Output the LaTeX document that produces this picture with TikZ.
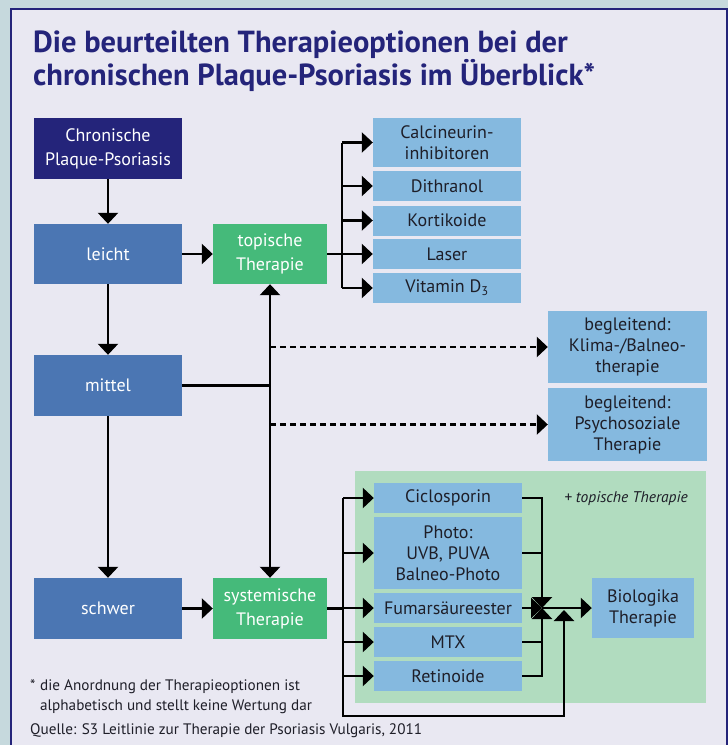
\documentclass[tikz,border=0pt]{standalone}
\usepackage{fontspec}
\setmainfont{PT Sans}
\usetikzlibrary{arrows.meta}
\definecolor{outerbg}{HTML}{C6D9DD}
\definecolor{innerbg}{HTML}{E9E8F2}
\definecolor{navy}{HTML}{24247A}
\definecolor{midblue}{HTML}{4B76B3}
\definecolor{tgreen}{HTML}{45BA7A}
\definecolor{lblue}{HTML}{85B9DF}
\definecolor{lgreen}{HTML}{B1DCBF}
\definecolor{darktext}{HTML}{1E1E28}
\begin{document}
\begin{tikzpicture}[x=1pt,y=-1pt,
  basebox/.style={inner sep=0pt, align=center},
  dbox/.style={basebox, fill=navy, text=white, font=\fontsize{18}{24}\selectfont},
  mbox/.style={basebox, fill=midblue, text=white, font=\fontsize{18}{24}\selectfont},
  gbox/.style={basebox, fill=tgreen, text=white, font=\fontsize{18}{24}\selectfont},
  lbox/.style={basebox, fill=lblue, text=darktext, font=\fontsize{18}{21}\selectfont},
  conn/.style={line width=2.4pt, draw=black},
  arr/.style={conn, -{Triangle[length=11pt,width=20pt]}},
  dblarr/.style={conn, {Triangle[length=11pt,width=20pt]}-{Triangle[length=11pt,width=20pt]}},
  dasharr/.style={arr, dash pattern=on 6pt off 4pt},
  titletext/.style={anchor=base west, inner sep=0pt, text=navy, font=\bfseries\fontsize{30.5}{36}\selectfont},
  notetext/.style={anchor=base west, inner sep=0pt, text=darktext, font=\fontsize{15.2}{18}\selectfont}
]
\useasboundingbox (0,0) rectangle (728,745);
\clip (0,0) rectangle (728,745);
\fill[outerbg] (0,0) rectangle (728,745);
\filldraw[fill=innerbg, draw=navy, line width=2.5pt] (11,9) rectangle (727,790);
\fill[lgreen] (355,471) rectangle (706,703);

% title
\node[titletext] (t1) at (33,52) {Die beurteilten Therapieoptionen bei der};
\node[titletext] (t2) at (33,85) {chronischen Plaque-Psoriasis im Überblick*};

% left column
\node[dbox, minimum width=148pt, minimum height=61pt] (chron) at (108,148.5) {Chronische\\Plaque-Psoriasis};
\node[mbox, minimum width=148pt, minimum height=60pt] (leicht) at (108,254) {leicht};
\node[mbox, minimum width=148pt, minimum height=61pt] (mittel) at (108,385.5) {mittel};
\node[mbox, minimum width=148pt, minimum height=61pt] (schwer) at (108,608.5) {schwer};

% therapy boxes
\node[gbox, minimum width=114pt, minimum height=60pt] (topisch) at (270,254) {topische\\Therapie};
\node[gbox, minimum width=114pt, minimum height=61pt] (system) at (270,608.5) {systemische\\Therapie};

% topical list
\node[lbox, minimum width=148pt, minimum height=49pt] (calc) at (447,142.5) {Calcineurin-\\inhibitoren};
\node[lbox, minimum width=148pt, minimum height=30pt] (dith) at (447,186) {Dithranol};
\node[lbox, minimum width=148pt, minimum height=30pt] (kort) at (447,220.5) {Kortikoide};
\node[lbox, minimum width=148pt, minimum height=30pt] (laser) at (447,254) {Laser};
\node[lbox, minimum width=148pt, minimum height=30pt] (vitd) at (447,288) {Vitamin D\textsubscript{3}};

% accompanying
\node[lbox, minimum width=159pt, minimum height=72pt] (beg1) at (627.5,347) {begleitend:\\Klima-/Balneo-\\therapie};
\node[lbox, minimum width=159pt, minimum height=73pt] (beg2) at (627.5,424.5) {begleitend:\\Psychosoziale\\Therapie};

% systemic list
\node[lbox, minimum width=148pt, minimum height=30pt] (cic) at (448,498) {Ciclosporin};
\node[lbox, minimum width=148pt, minimum height=72pt] (photo) at (448,553) {Photo:\\UVB, PUVA\\Balneo-Photo};
\node[lbox, minimum width=148pt, minimum height=30pt] (fum) at (448,608) {Fumarsäureester};
\node[lbox, minimum width=148pt, minimum height=30pt] (mtx) at (448,642) {MTX};
\node[lbox, minimum width=148pt, minimum height=30pt] (ret) at (448,676) {Retinoide};
\node[lbox, minimum width=102pt, minimum height=60pt] (bio) at (643,608) {Biologika\\Therapie};

\node[anchor=center, inner sep=0pt, text=darktext, font=\itshape\fontsize{15.5}{18}\selectfont] (plus) at (626,499) {+ topische Therapie};

% helper coordinates
\coordinate (tx) at (342,0);
\coordinate (sx) at (343,0);
\coordinate (J) at (542,608);
\coordinate (LB) at (564,716);
\coordinate (LT) at (564,610);

% left column arrows
\draw[arr] (chron) -- (leicht);
\draw[arr] (leicht) -- (mittel);
\draw[arr] (mittel) -- (schwer);
\draw[arr] (leicht) -- (topisch);
\draw[arr] (schwer) -- (system);

% centre line
\draw[dblarr] (topisch.south) -- (system.north);
\draw[conn] (mittel.east) -- (mittel.east -| topisch.south);
\draw[dasharr] (beg1.west -| topisch.south) -- (beg1.west);
\draw[dasharr] (beg2.west -| topisch.south) -- (beg2.west);

% topical tree
\draw[conn] (topisch.east) -- (topisch.east -| tx);
\draw[conn] (calc.west -| tx) -- (vitd.west -| tx);
\foreach \n in {calc,dith,kort,laser,vitd}{
  \draw[arr] (\n.west -| tx) -- (\n.west);
}

% systemic tree
\draw[conn] (system.east) -- (system.east -| sx);
\draw[arr] (cic.west -| sx) |- (LB) -- (LT);
\foreach \n in {cic,photo,fum,mtx,ret}{
  \draw[arr] (\n.west -| sx) -- (\n.west);
}
\draw[arr] (cic.east) -| (J);
\draw[conn] (photo.east) -- (photo.east -| J);
\draw[arr] (fum.east) -- (J);
\draw[conn] (mtx.east) -- (mtx.east -| J);
\draw[arr] (ret.east) -| (J);
\draw[arr] (J) -- (bio.west);

% notes
\node[notetext] (star) at (30,690) {*};
\node[notetext] (n1) at (40,690) {die Anordnung der Therapieoptionen ist};
\node[notetext] (n2) at (40,710) {alphabetisch und stellt keine Wertung dar};
\node[notetext] (src) at (30,734) {Quelle: S3 Leitlinie zur Therapie der Psoriasis Vulgaris, 2011};
\end{tikzpicture}
\end{document}
